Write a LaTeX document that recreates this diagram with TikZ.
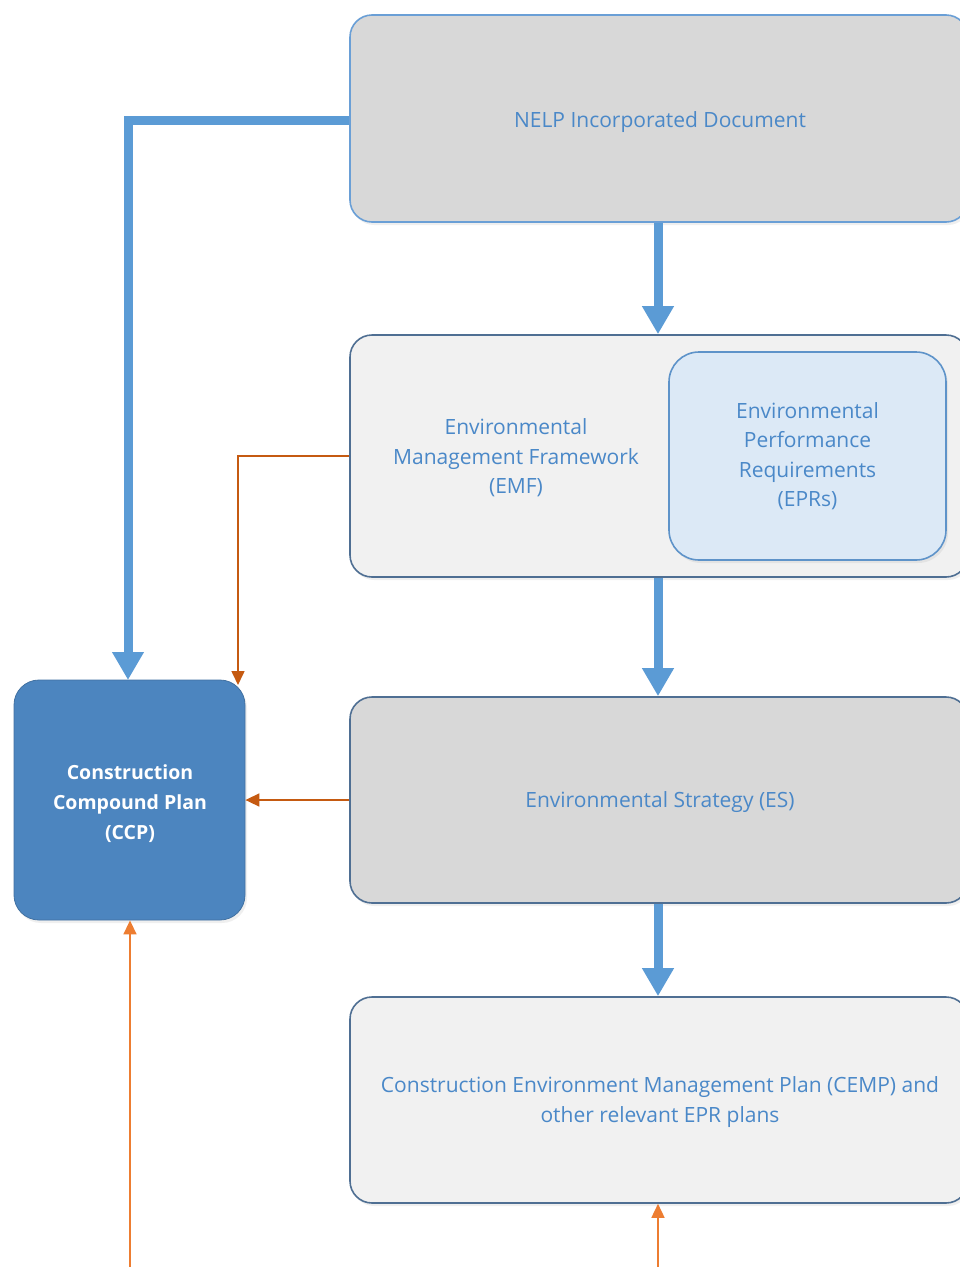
\documentclass[tikz,border=0pt]{standalone}
\usepackage{fontspec}
\setmainfont{Open Sans}
\usetikzlibrary{arrows.meta,shadows}
\definecolor{txtblue}{HTML}{4A88C8}
\definecolor{thickblue}{HTML}{5B9BD5}
\definecolor{nelpborder}{HTML}{6A9FD6}
\definecolor{darkborder}{HTML}{4F6F93}
\definecolor{grayfill}{HTML}{D8D8D8}
\definecolor{lightfill}{HTML}{F1F1F1}
\definecolor{eprfill}{HTML}{DCE9F6}
\definecolor{eprborder}{HTML}{5E93C9}
\definecolor{ccpfill}{HTML}{4C85BF}
\definecolor{orangedark}{HTML}{C55A11}
\definecolor{orangelight}{HTML}{ED7D31}
\tikzset{
  x=1pt, y=-1pt,
  boxbase/.style={rounded corners=22pt, line width=1.6pt, inner sep=0pt,
    drop shadow={opacity=0.12, shadow xshift=2pt, shadow yshift=-3pt}},
  graybox/.style={boxbase, draw=darkborder, fill=grayfill},
  lightbox/.style={boxbase, draw=darkborder, fill=lightfill},
  txt/.style={text=txtblue, font=\fontsize{21}{29.5}\selectfont, align=center},
  bigarrow/.style={draw=thickblue, line width=9pt, -{Triangle[width=30pt,length=28pt]}},
  orarrow/.style={line width=1.6pt, -{Triangle[width=13pt,length=14pt]}},
}
\begin{document}
\begin{tikzpicture}
\useasboundingbox (0,0) rectangle (960,1267);
\clip (0,0) rectangle (960,1267);
\fill[white] (0,0) rectangle (960,1267);

% boxes
\node[graybox, draw=nelpborder, minimum width=618pt, minimum height=207pt] (nelp) at (659,118.5) {};
\node[txt] (nelptext) at (660,122) {NELP Incorporated Document};

\node[lightbox, minimum width=618pt, minimum height=242pt] (emf) at (659,456) {};
\node[txt] (emftext) at (516,458) {Environmental\\Management Framework\\(EMF)};
\node[boxbase, rounded corners=30pt, draw=eprborder, fill=eprfill, minimum width=277pt, minimum height=208pt, txt] (epr) at (807.5,456) {Environmental\\Performance\\Requirements\\(EPRs)};

\node[graybox, minimum width=618pt, minimum height=206pt] (es) at (659,800) {};
\node[txt] (estext) at (660,802) {Environmental Strategy (ES)};

\node[lightbox, minimum width=618pt, minimum height=206pt] (cemp) at (659,1100) {};
\node[txt] (cemptext) at (660,1102) {Construction Environment Management Plan (CEMP) and\\other relevant EPR plans};

\node[boxbase, rounded corners=25pt, draw=ccpfill!85!black, line width=0.8pt, fill=ccpfill, minimum width=231pt, minimum height=240pt, inner sep=0pt] (ccp) at (129.5,800) {};
\node[txt, text=white, font=\fontsize{19.5}{30}\selectfont\bfseries] (ccptext) at (130,804) {Construction\\Compound Plan\\(CCP)};

% coordinates
\coordinate (bendA) at (128,120);
\coordinate (bendB) at (238,456);
\coordinate (botL) at (130,1267);
\coordinate (botR) at (658,1267);

% thick blue connectors
\draw[bigarrow] (nelp.west |- 0,120) -- (bendA) -- (128,680);
\draw[bigarrow] (nelp.south -| 658,0) -- (emf.north -| 658,0);
\draw[bigarrow] (emf.south -| 658,0) -- (es.north -| 658,0);
\draw[bigarrow] (es.south -| 658,0) -- (cemp.north -| 658,0);

% orange connectors
\draw[orarrow, draw=orangedark] (emf.west) -- (bendB) -- (238,685);
\draw[orarrow, draw=orangedark] (es.west) -- (ccp.east);
\draw[orarrow, draw=orangelight] (botL) -- (ccp.south -| botL);
\draw[orarrow, draw=orangelight] (botR) -- (cemp.south -| botR);
\end{tikzpicture}
\end{document}
